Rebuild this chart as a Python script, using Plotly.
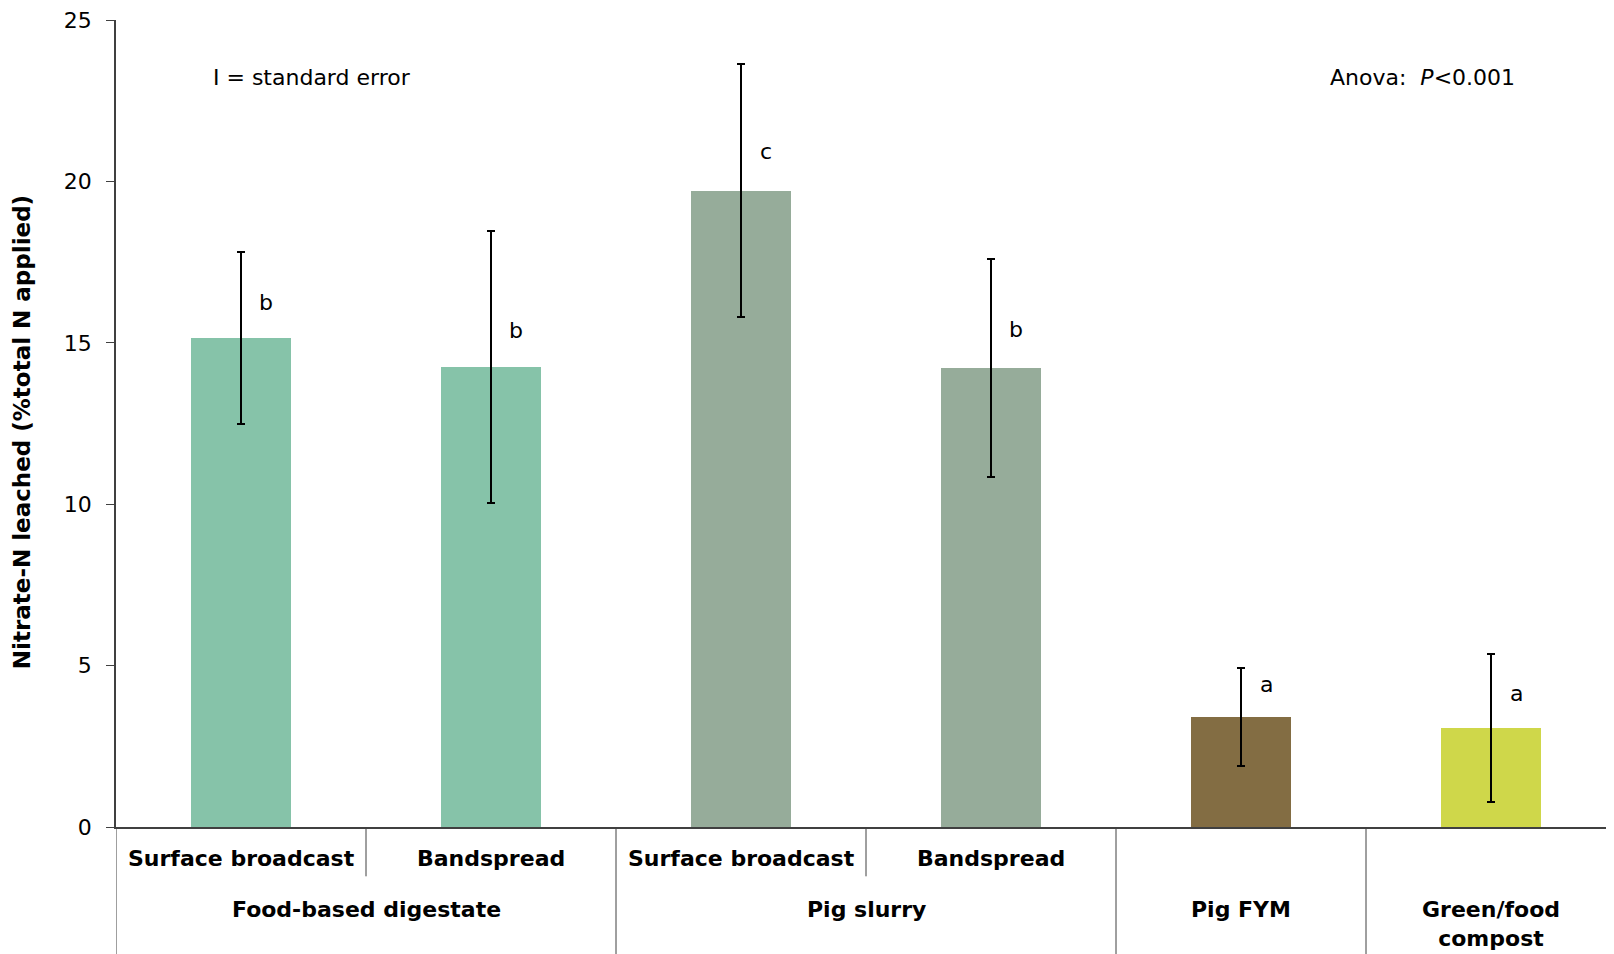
import plotly.graph_objects as go

# ---- data ----
methods = ["Surface broadcast", "Bandspread", "Surface broadcast", "Bandspread", "", ""]
groups = ["Food-based digestate", "Pig slurry", "Pig FYM", "Green/food<br>compost"]
group_spans = [(0, 1), (2, 3), (4, 4), (5, 5)]
values = [15.15, 14.25, 19.71, 14.22, 3.41, 3.06]
std_err = [2.67, 4.22, 3.92, 3.38, 1.52, 2.30]
letters = ["b", "b", "c", "b", "a", "a"]
letter_y = [16.26, 15.37, 20.92, 15.40, 4.40, 4.15]
colors = ["#86C3A9", "#86C3A9", "#96AC9A", "#96AC9A", "#836D43", "#CFD74A"]
y_ticks = [0, 5, 10, 15, 20, 25]

FONT = "DejaVu Sans, sans-serif"
FS = 22
BODY = 8                      # default page body margin
PAGE_W, PAGE_H = 1614, 954
PLOT_L, PLOT_T = 116, 20      # plot area position on the page
PLOT_H = 806.7
PLOT_W = 1498
PLOT_B = PLOT_T + PLOT_H
W, H = PAGE_W - BODY, PAGE_H - BODY
ML, MT = PLOT_L - BODY, PLOT_T - BODY
MB = H - MT - PLOT_H
MR = W - ML - PLOT_W


def py(px):
    """page pixel y -> paper coordinate"""
    return (PLOT_B - px) / PLOT_H


def px_(p):
    """page pixel x -> paper coordinate"""
    return (p - PLOT_L) / PLOT_W


x = list(range(len(values)))
fig = go.Figure()
fig.add_trace(go.Bar(
    x=x, y=values, width=0.4, marker=dict(color=colors, line=dict(width=0)),
    error_y=dict(type="data", array=std_err, visible=True, color="black", thickness=2, width=4),
    showlegend=False, hoverinfo="skip",
))

ann = []
for i, (l, ly) in enumerate(zip(letters, letter_y)):
    ann.append(dict(x=i + 0.1, y=ly, xref="x", yref="y", text=l, showarrow=False,
                    font=dict(size=FS, color="black", family=FONT), xanchor="center", yanchor="middle"))
for i, m in enumerate(methods):
    if m:
        ann.append(dict(x=i, y=py(858.5), xref="x", yref="paper", text="<b>%s</b>" % m, showarrow=False,
                        font=dict(size=FS, color="black", family=FONT), xanchor="center", yanchor="middle"))
for g, (a, b) in zip(groups, group_spans):
    two = "<br>" in g
    ann.append(dict(x=(a + b) / 2, y=py(924 if two else 909), xref="x", yref="paper", text="<b>%s</b>" % g,
                    showarrow=False, font=dict(size=FS, color="black", family=FONT),
                    xanchor="center", yanchor="middle"))
ann.append(dict(x=px_(211), y=py(77), xref="paper", yref="paper", text="I = standard error", showarrow=False,
                font=dict(size=FS, color="black", family=FONT), xanchor="left", yanchor="middle"))
ann.append(dict(x=px_(1517), y=py(77), xref="paper", yref="paper", text="Anova:  <i>P</i>&lt;0.001",
                showarrow=False, font=dict(size=FS, color="black", family=FONT),
                xanchor="right", yanchor="middle"))
ann.append(dict(x=px_(22), y=py(432), xref="paper", yref="paper",
                text="<b>Nitrate-N leached (%total N applied)</b>",
                showarrow=False, textangle=-90, font=dict(size=FS + 1, color="black", family=FONT),
                xanchor="center", yanchor="middle"))

shapes = []
line_col = "#404040"
for xb in [0.5, 2.5]:
    shapes.append(dict(type="line", xref="x", yref="paper", x0=xb, x1=xb, y0=0, y1=py(876),
                       line=dict(color=line_col, width=1)))
for xb in [-0.5, 1.5, 3.5, 4.5]:
    shapes.append(dict(type="line", xref="x", yref="paper", x0=xb, x1=xb, y0=0, y1=py(PAGE_H + 5),
                       line=dict(color=line_col, width=1)))

fig.update_layout(
    width=W, height=H, margin=dict(l=ML, r=MR, t=MT, b=MB, pad=0),
    plot_bgcolor="white", paper_bgcolor="white",
    font=dict(family=FONT, size=FS, color="black"),
    annotations=ann, shapes=shapes, bargap=0,
)
fig.update_xaxes(range=[-0.5, 5.5 - 2 / 250], showticklabels=False, ticks="", showgrid=False,
                 zeroline=False, showline=True, linecolor=line_col, linewidth=1.5, fixedrange=True)
fig.update_yaxes(range=[0, 25], tickvals=y_ticks, ticktext=[str(v) for v in y_ticks],
                 tickmode="array", ticks="outside", ticklen=8, tickcolor=line_col,
                 showgrid=False, zeroline=False, showline=True, linecolor=line_col, linewidth=1.5,
                 tickfont=dict(size=FS, family=FONT), ticklabelstandoff=10, ticklabeloverflow="allow",
                 fixedrange=True)

fig.write_html("out.html")
